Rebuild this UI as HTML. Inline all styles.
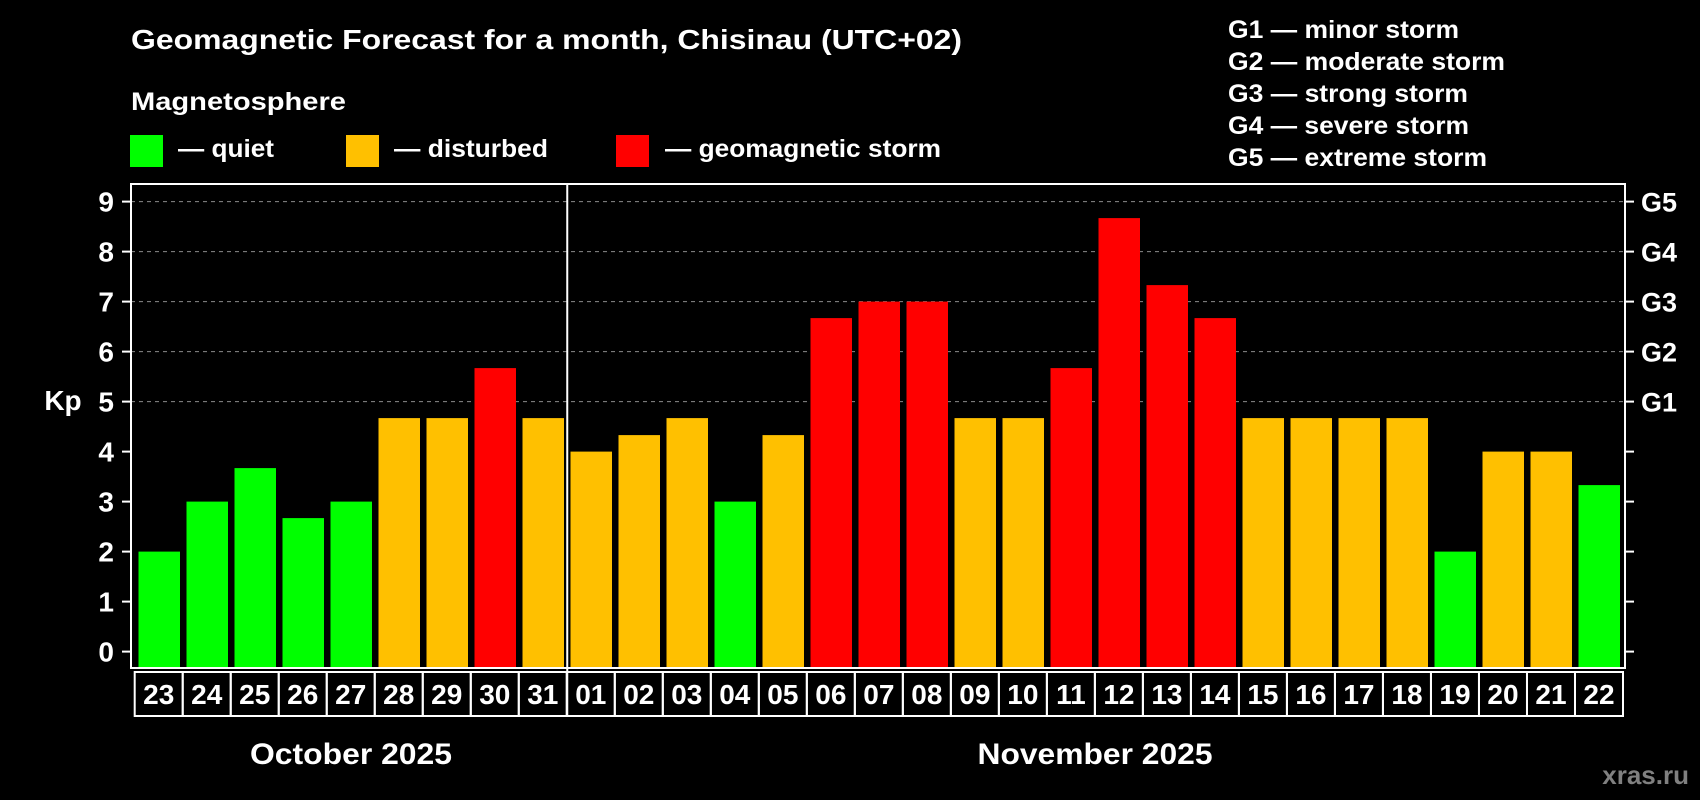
<!DOCTYPE html>
<html><head><meta charset="utf-8"><style>
html,body{margin:0;padding:0;background:#000;}
svg{display:block;font-family:"Liberation Sans",Arial,sans-serif;font-weight:bold;}
</style></head><body>
<svg id="chart" width="1700" height="800" viewBox="0 0 1700 800" xmlns="http://www.w3.org/2000/svg">
<rect x="0" y="0" width="1700" height="800" fill="#000"/>
<text x="131" y="49" font-size="28" fill="#fff" textLength="831" lengthAdjust="spacingAndGlyphs">Geomagnetic Forecast for a month, Chisinau (UTC+02)</text>
<text x="131" y="110" font-size="25" fill="#fff" textLength="215" lengthAdjust="spacingAndGlyphs">Magnetosphere</text>
<g>
<rect x="130" y="135" width="33" height="32" fill="#00ff00"/>
<text x="178" y="157" font-size="25" fill="#fff" textLength="96" lengthAdjust="spacingAndGlyphs">— quiet</text>
</g>
<g>
<rect x="346" y="135" width="33" height="32" fill="#ffc000"/>
<text x="394" y="157" font-size="25" fill="#fff" textLength="154" lengthAdjust="spacingAndGlyphs">— disturbed</text>
</g>
<g>
<rect x="616" y="135" width="33" height="32" fill="#ff0000"/>
<text x="665" y="157" font-size="25" fill="#fff" textLength="276" lengthAdjust="spacingAndGlyphs">— geomagnetic storm</text>
</g>
<g font-size="25" fill="#fff">
<text x="1228" y="38" textLength="231" lengthAdjust="spacingAndGlyphs">G1 — minor storm</text>
<text x="1228" y="70" textLength="277" lengthAdjust="spacingAndGlyphs">G2 — moderate storm</text>
<text x="1228" y="102" textLength="240" lengthAdjust="spacingAndGlyphs">G3 — strong storm</text>
<text x="1228" y="134" textLength="241" lengthAdjust="spacingAndGlyphs">G4 — severe storm</text>
<text x="1228" y="166" textLength="259" lengthAdjust="spacingAndGlyphs">G5 — extreme storm</text>
</g>
<g id="grid"></g>
<g id="bars"></g>
<g id="axes"></g>
<text x="63" y="410" font-size="28" fill="#fff" text-anchor="middle">Kp</text>
<text x="351" y="764" font-size="30" fill="#fff" text-anchor="middle" textLength="202" lengthAdjust="spacingAndGlyphs">October 2025</text>
<text x="1095" y="764" font-size="30" fill="#fff" text-anchor="middle" textLength="235" lengthAdjust="spacingAndGlyphs">November 2025</text>
<text x="1689" y="784" font-size="26" fill="#808080" text-anchor="end">xras.ru</text>
</svg>
<script>
const days = ["23","24","25","26","27","28","29","30","31","01","02","03","04","05","06","07","08","09","10","11","12","13","14","15","16","17","18","19","20","21","22"];
const kpValues = [2,3,3.67,2.67,3,4.67,4.67,5.67,4.67,4,4.33,4.67,3,4.33,6.67,7,7,4.67,4.67,5.67,8.67,7.33,6.67,4.67,4.67,4.67,4.67,2,4,4,3.33];
const yTicks = [0,1,2,3,4,5,6,7,8,9];
const gLabels = ["G1","G2","G3","G4","G5"];
const gLevels = [5,6,7,8,9];

const NS = "http://www.w3.org/2000/svg";
const frameL = 131, frameR = 1625, frameT = 184, frameB = 668;
const y0 = 651.6, unit = 50;
const pitch = 48, bar0 = 138.5, barW = 41.5;
function yScale(v){ return y0 - v*unit; }
function xScale(i){ return bar0 + i*pitch; }
function colorFor(v){ return v >= 5 ? "#ff0000" : (v >= 4 ? "#ffc000" : "#00ff00"); }
function mk(tag, attrs, parent){ const e=document.createElementNS(NS,tag); for(const k in attrs) e.setAttribute(k,attrs[k]); parent.appendChild(e); return e; }

const grid = document.getElementById("grid");
gLevels.forEach(function(v, i){
  const l = mk("line",{x1:frameL,x2:frameR,y1:yScale(v),y2:yScale(v),stroke:"#8a8a8a","stroke-width":1,"stroke-dasharray":"4 4"},grid);
  
  
});

const bars = document.getElementById("bars");
kpValues.forEach(function(v, i){
  const r = mk("rect",{x:xScale(i),y:yScale(v),width:barW,height:frameB - yScale(v),fill:colorFor(v)},bars);
  
  
});

const axes = document.getElementById("axes");
const fr = mk("rect",{x:frameL,y:frameT,width:frameR-frameL,height:frameB-frameT,fill:"none",stroke:"#fff","stroke-width":2},axes);


yTicks.forEach(function(v){
  const t = mk("line",{x1:frameL-9,x2:frameL,y1:yScale(v),y2:yScale(v),stroke:"#fff","stroke-width":2},axes);
  
  
  const t2 = mk("line",{x1:frameR,x2:frameR+9,y1:yScale(v),y2:yScale(v),stroke:"#fff","stroke-width":2},axes);
  
  
  const lb = mk("text",{x:114,y:yScale(v)+10,"font-size":28,fill:"#fff","text-anchor":"end"},axes);
  lb.textContent = v;
  
  
});
gLevels.forEach(function(v, i){
  const lb = mk("text",{x:1641,y:yScale(v)+10,"font-size":27,fill:"#fff"},axes);
  lb.textContent = gLabels[i];
  
  
});
const boxL = 134.7, boxW = (1623 - 134.7)/days.length, boxT = 672, boxH = 44;
days.forEach(function(d, i){
  const bx = mk("rect",{x:boxL+i*boxW,y:boxT,width:boxW,height:boxH,fill:"none",stroke:"#fff","stroke-width":2},axes);
  
  
  const tx = mk("text",{x:boxL+i*boxW+boxW/2,y:704,"font-size":28,fill:"#fff","text-anchor":"middle"},axes);
  tx.textContent = d;
  
  
});
const divX = (xScale(8)+barW + xScale(9))/2;
const dv = mk("line",{x1:divX,x2:divX,y1:frameT,y2:boxT+boxH,stroke:"#fff","stroke-width":2},axes);


</script>
</body></html>
